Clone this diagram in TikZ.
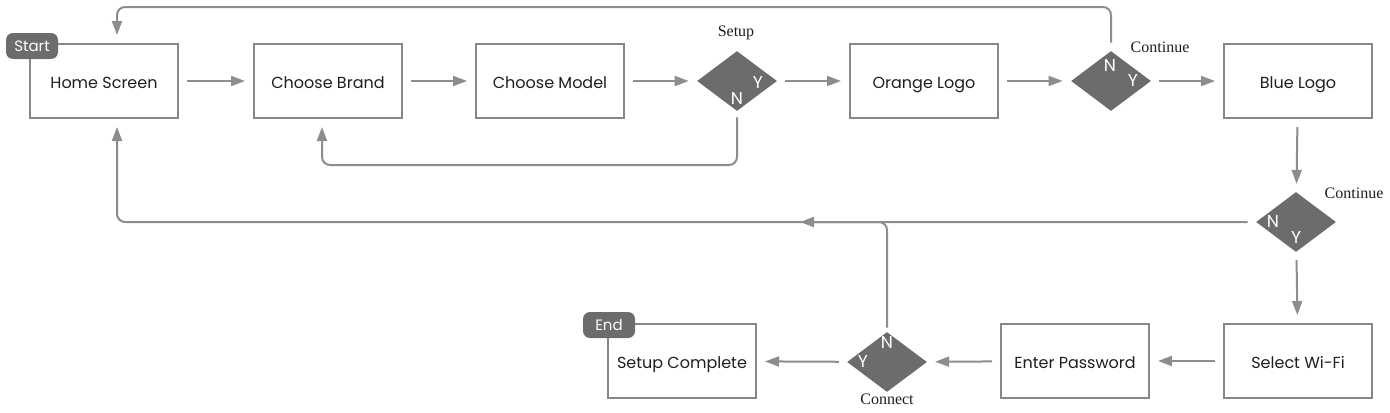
\documentclass[tikz,border=0pt]{standalone}
\usepackage{fontspec}
\setmainfont{Poppins}
\newfontfamily\labelfont{Liberation Serif}
\usetikzlibrary{shapes.geometric,arrows.meta}
\definecolor{linegray}{RGB}{140,140,146}
\definecolor{boxgray}{RGB}{135,135,138}
\definecolor{fillgray}{RGB}{108,108,111}
\definecolor{textgray}{RGB}{30,30,30}
\tikzset{
  screen/.style={draw=boxgray,line width=1pt,minimum width=74pt,minimum height=37pt,inner sep=0pt,text height=7pt,text depth=0pt,text=textgray,font=\fontsize{8}{10}\selectfont},
  choice/.style={diamond,fill=fillgray,minimum width=40pt,minimum height=30pt,inner sep=0pt},
  yn/.style={text=white,inner sep=0pt,font=\fontsize{8.6}{10}\selectfont},
  tag/.style={fill=fillgray,rounded corners=3.5pt,text=white,minimum width=26pt,minimum height=13pt,inner sep=0pt,font=\fontsize{7.5}{9}\selectfont},
  caption/.style={text=textgray,inner sep=0pt,font=\labelfont\fontsize{8}{10}\selectfont},
  flow/.style={draw=linegray,line width=1pt,-{Triangle[length=7pt,width=5pt]}},
  gap/.style={shorten <=4pt,shorten >=4pt}
}
\begin{document}
\begin{tikzpicture}[x=0.5pt,y=-0.5pt]
\useasboundingbox (0,0) rectangle (1390,412);
\path
(322,165) coordinate (b1)
(117,7) coordinate (h1)
(117,222) coordinate (h2)
(800,222) coordinate (c1);
% top row
\node[screen] (home) at (104,81) {Home Screen};
\node[screen] (brand) at (328,81) {Choose Brand};
\node[screen] (model) at (550,81) {Choose Model};
\node[choice] (setup) at (737,81) {};
\node[screen] (orange) at (924,81) {Orange Logo};
\node[choice] (cont1) at (1111,81) {};
\node[screen] (blue) at (1298,81) {Blue Logo};
% right column and bottom row
\node[choice] (cont2) at (1296,222) {};
\node[screen] (wifi) at (1298,361) {Select Wi-Fi};
\node[screen] (pwd) at (1075,361) {Enter Password};
\node[choice] (conn) at (887,362) {};
\node[screen] (done) at (682,361) {Setup Complete};
% tags
\node[tag] (start) at (32,46) {Start};
\node[tag] (end) at (609,325) {End};
% decision letters
\node[yn] (setupY) at (758,83) {Y};
\node[yn] (setupN) at (737,98) {N};
\node[yn] (cont1N) at (1110,65) {N};
\node[yn] (cont1Y) at (1133,81) {Y};
\node[yn] (cont2N) at (1273,221) {N};
\node[yn] (cont2Y) at (1296,238) {Y};
\node[yn] (connN) at (887,342) {N};
\node[yn] (connY) at (863,361) {Y};
% captions
\node[caption] (setupL) at (736,33) {Setup};
\node[caption] (cont1L) at (1160,47) {Continue};
\node[caption] (cont2L) at (1354,193) {Continue};
\node[caption] (connL) at (887,399) {Connect};
% main flow
\draw[flow,gap] (home) -- (brand);
\draw[flow,gap] (brand) -- (model);
\draw[flow,gap] (model) -- (setup);
\draw[flow,gap] (setup) -- (orange);
\draw[flow,gap] (orange) -- (cont1);
\draw[flow,gap] (cont1) -- (blue);
\draw[flow,gap] (blue) -- (cont2);
\draw[flow,gap] (cont2) -- (wifi);
\draw[flow,gap] (wifi) -- (pwd);
\draw[flow,gap] (pwd) -- (conn);
\draw[flow,gap] (conn) -- (done);
% loops back
\draw[flow,rounded corners=4pt,shorten <=3pt,shorten >=4pt] (setup.south) |- (b1) -- (b1 |- brand.south);
\draw[flow,rounded corners=4pt,shorten <=4pt,shorten >=4pt] (cont1.north) |- (h1) -- (h1 |- home.north);
\draw[flow,rounded corners=4pt,gap] (cont2.west) -- (h2) -- (h2 |- home.south);
\draw[flow,rounded corners=4pt,shorten <=2pt] (conn.north) |- (c1);
\end{tikzpicture}
\end{document}
